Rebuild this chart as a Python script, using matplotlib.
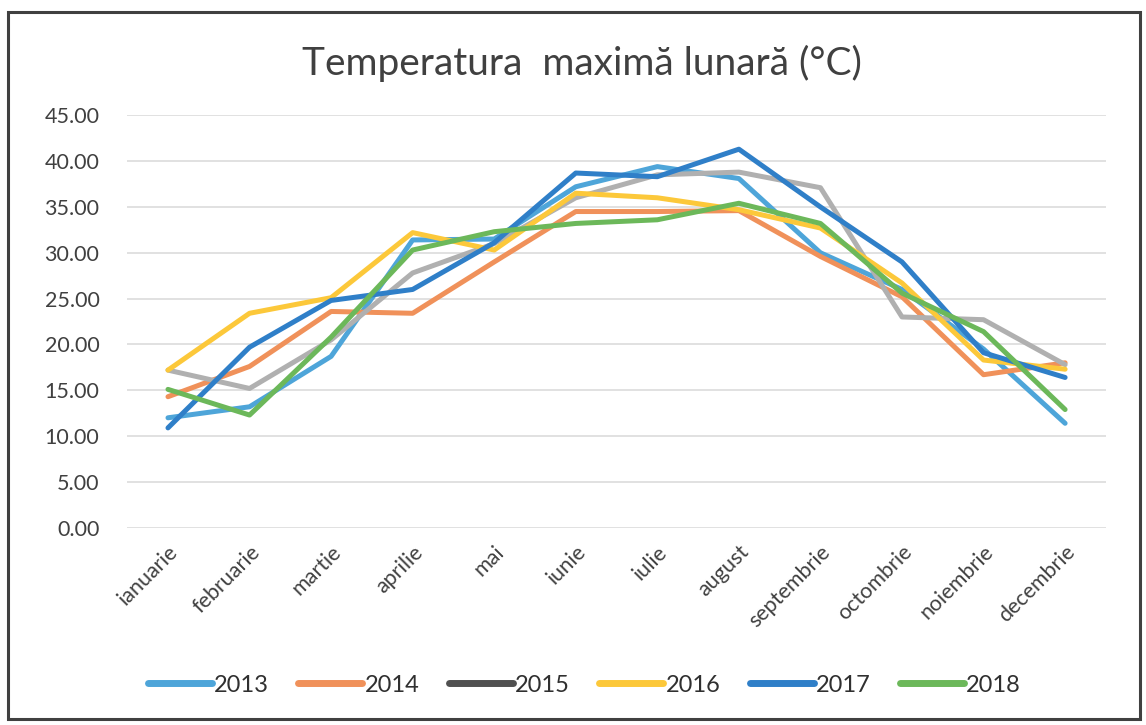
import matplotlib
matplotlib.use("Agg")
import matplotlib.pyplot as plt
from matplotlib.lines import Line2D
from matplotlib.patches import Rectangle

months = ["ianuarie", "februarie", "martie", "aprilie", "mai", "iunie",
          "iulie", "august", "septembrie", "octombrie", "noiembrie", "decembrie"]
years = ["2013", "2014", "2015", "2016", "2017", "2018"]

t2013 = [12.0, 13.2, 18.7, 31.4, 31.5, 37.2, 39.4, 38.1, 30.0, 26.0, 19.5, 11.4]
t2014 = [14.3, 17.6, 23.6, 23.4, 29.0, 34.5, 34.5, 34.6, 29.6, 25.2, 16.7, 18.0]
t2015 = [17.2, 15.2, 20.5, 27.8, 31.0, 36.0, 38.5, 38.8, 37.1, 23.0, 22.7, 17.8]
t2016 = [17.2, 23.4, 25.1, 32.2, 30.3, 36.5, 36.0, 34.7, 32.7, 26.7, 18.3, 17.3]
t2017 = [10.9, 19.7, 24.8, 26.0, 31.1, 38.7, 38.3, 41.3, 35.0, 29.0, 19.1, 16.4]
t2018 = [15.1, 12.3, 20.8, 30.3, 32.3, 33.2, 33.6, 35.4, 33.2, 25.6, 21.4, 12.9]
series = [t2013, t2014, t2015, t2016, t2017, t2018]

colors = ["#4ea5d9", "#f0915a", "#b0b0b0", "#fcc83a", "#2f7fc8", "#6cb85a"]
legend_colors = ["#4ea5d9", "#f0915a", "#505050", "#fcc83a", "#2f7fc8", "#6cb85a"]
yticks = [0, 5, 10, 15, 20, 25, 30, 35, 40, 45]

plt.rcParams['font.family'] = ['Lato', 'DejaVu Sans']

fig = plt.figure(figsize=(11.46, 7.25), dpi=100)
ax = fig.add_axes([0.111, 0.272, 0.854, 0.569])

x = list(range(len(months)))
for vals, c in zip(series, colors):
    ax.plot(x, vals, color=c, lw=3.6, solid_capstyle='round', solid_joinstyle='round', zorder=3)

ax.set_xlim(-0.5, len(months) - 0.5)
ax.set_ylim(0, 45)
ax.set_yticks(yticks)
ax.set_yticklabels([f"{v:.2f}" for v in yticks], fontsize=15.5, color="#404040")
ax.set_xticks(x)
ax.set_xticklabels(months, rotation=45, ha='right', rotation_mode='anchor',
                   fontsize=15.5, color="#404040")
ax.tick_params(axis='x', length=0, pad=10)
ax.tick_params(axis='y', length=0, pad=20)
ax.grid(axis='y', color='#dcdcdc', lw=1.2, zorder=0)
for s in ax.spines.values():
    s.set_visible(False)

fig.text(0.508, 0.913, "Temperatura  maximă lunară (°C)", ha='center', va='center',
         fontsize=28, color="#404040")

handles = [Line2D([0], [0], color=c, lw=5, solid_capstyle='round') for c in legend_colors]
fig.legend(handles, years, loc='center', bbox_to_anchor=(0.51, 0.055), ncol=6,
           frameon=False, fontsize=17, handlelength=2.7, handletextpad=0.1,
           columnspacing=1.25, labelcolor="#303030")

fig.patches.append(Rectangle((0.007, 0.008), 0.988, 0.975, transform=fig.transFigure,
                             fill=False, edgecolor="#404040", lw=2.2))

fig.savefig("out.png", dpi=100, facecolor="white")
